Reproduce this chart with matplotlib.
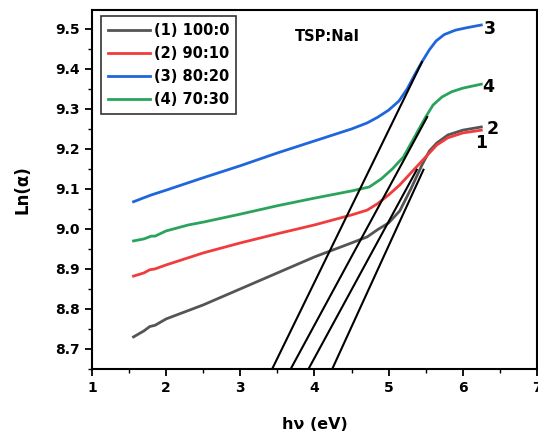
import matplotlib
matplotlib.use("Agg")
import matplotlib.pyplot as plt
from matplotlib.ticker import MultipleLocator

plt.rcParams['font.family'] = ['DejaVu Sans']
plt.rcParams['font.weight'] = 'bold'

# curve (1) 100:0
x1 = [1.56, 1.70, 1.78, 1.85, 2.0, 2.5, 3.0, 3.5, 4.0, 4.5, 4.71, 4.85,
      5.0, 5.15, 5.3, 5.45, 5.55, 5.65, 5.8, 6.0, 6.25]
y1 = [8.730, 8.745, 8.756, 8.759, 8.775, 8.810, 8.850, 8.890, 8.930, 8.965,
      8.980, 8.998, 9.015, 9.045, 9.100, 9.160, 9.195, 9.215, 9.235, 9.247, 9.255]
# curve (2) 90:10
x2 = [1.56, 1.70, 1.78, 1.85, 2.0, 2.5, 3.0, 3.5, 4.0, 4.5, 4.71, 4.85,
      5.0, 5.15, 5.3, 5.45, 5.55, 5.65, 5.8, 6.0, 6.25]
y2 = [8.882, 8.890, 8.898, 8.900, 8.910, 8.940, 8.965, 8.988, 9.010, 9.035,
      9.047, 9.063, 9.085, 9.110, 9.140, 9.170, 9.190, 9.210, 9.228, 9.240, 9.247]
# curve (3) 80:20
x3 = [1.56, 1.70, 1.80, 2.0, 2.5, 3.0, 3.5, 4.0, 4.5, 4.71, 4.85, 5.0,
      5.14, 5.25, 5.35, 5.45, 5.55, 5.64, 5.75, 5.9, 6.05, 6.25]
y3 = [9.068, 9.078, 9.085, 9.097, 9.128, 9.158, 9.190, 9.220, 9.250, 9.265,
      9.279, 9.297, 9.320, 9.350, 9.385, 9.418, 9.448, 9.470, 9.486, 9.497,
      9.503, 9.510]
# curve (4) 70:30
x4 = [1.56, 1.70, 1.80, 1.85, 2.0, 2.3, 2.5, 3.0, 3.5, 4.0, 4.5, 4.74,
      4.9, 5.05, 5.2, 5.35, 5.5, 5.6, 5.72, 5.85, 6.0, 6.25]
y4 = [8.970, 8.975, 8.982, 8.982, 8.995, 9.010, 9.017, 9.037, 9.058, 9.077,
      9.095, 9.105, 9.125, 9.150, 9.180, 9.230, 9.280, 9.310, 9.330, 9.343,
      9.352, 9.362]

labels = ['(1) 100:0', '(2) 90:10', '(3) 80:20', '(4) 70:30']
colors = ['#555555', '#f03c3c', '#1f66dc', '#2aa35c']

# tangent lines: start x (at bottom of axis) and end (x, y)
tan_x0 = [3.43, 3.68, 3.92, 4.24]
tan_x1 = [5.45, 5.52, 5.38, 5.47]
tan_y1 = [9.4175, 9.28, 9.148, 9.148]
ymin = 8.65

# curve number labels
num_text = ['3', '4', '2', '1']
num_x = [6.37, 6.34, 6.41, 6.25]
num_y = [9.50, 9.355, 9.25, 9.215]

fig = plt.figure(figsize=(5.38, 4.34), dpi=100)
ax = fig.add_axes([0.171, 0.15, 0.827, 0.827])

for xs, ys, lab, c in zip([x1, x2, x3, x4], [y1, y2, y3, y4], labels, colors):
    ax.plot(xs, ys, color=c, lw=2.0, label=lab)

for a, b, yb in zip(tan_x0, tan_x1, tan_y1):
    ax.plot([a, b], [ymin, yb], color='black', lw=1.5)

for t, tx, ty in zip(num_text, num_x, num_y):
    ax.text(tx, ty, t, fontsize=12.5, fontweight='bold', ha='center', va='center')

ax.text(4.17, 9.48, 'TSP:NaI', fontsize=10.5, fontweight='bold', ha='center', va='center')

ax.set_xlim(1, 7)
ax.set_ylim(ymin, 9.5475)
ax.xaxis.set_major_locator(MultipleLocator(1))
ax.xaxis.set_minor_locator(MultipleLocator(0.5))
ax.yaxis.set_minor_locator(MultipleLocator(0.05))
ax.set_yticks([8.7, 8.8, 8.9, 9.0, 9.1, 9.2, 9.3, 9.4, 9.5])
ax.tick_params(which='major', direction='out', length=5, width=1.3, labelsize=10)
ax.tick_params(which='minor', direction='out', length=3, width=1.0)
for lab in ax.get_xticklabels() + ax.get_yticklabels():
    lab.set_fontweight('bold')
for s in ax.spines.values():
    s.set_linewidth(1.5)

ax.set_xlabel('hν (eV)', fontsize=11.5, fontweight='bold', labelpad=16)
ax.set_ylabel('Ln(α)', fontsize=12, fontweight='bold', labelpad=17)

leg = ax.legend(loc='upper left', bbox_to_anchor=(0.014, 0.99), fontsize=10.5,
                handlelength=2.9, frameon=True, fancybox=False,
                borderpad=0.45, labelspacing=0.55, handletextpad=0.3,
                borderaxespad=0.2)
leg.get_frame().set_edgecolor('black')
leg.get_frame().set_linewidth(1.2)
for t in leg.get_texts():
    t.set_fontweight('bold')

fig.savefig('out.png', dpi=100)
